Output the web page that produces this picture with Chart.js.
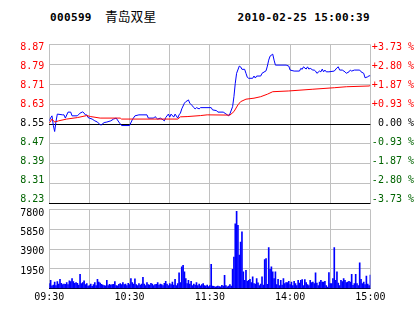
<!DOCTYPE html>
<html><head><meta charset="utf-8">
<script src="https://cdn.jsdelivr.net/npm/chart.js@4/dist/chart.umd.min.js"></script>
<style>
html,body{margin:0;padding:0;background:#fff;width:414px;height:314px;overflow:hidden;}
canvas{position:absolute;left:0;top:0;}
.t{position:absolute;white-space:pre;color:#000;}
.code{font-family:"DejaVu Sans Mono";font-weight:bold;font-size:11px;letter-spacing:0.35px;line-height:11px;top:11.7px;}
.name{font-family:"Noto Sans CJK SC";font-size:12.8px;line-height:12.8px;top:10.4px;left:105px;}
</style></head><body>
<div class="t code" id="code" style="left:50px"></div>
<div class="t name" id="name"></div>
<div class="t code" id="stamp" style="left:237.5px"></div>
<canvas id="p" width="414" height="314"></canvas>
<canvas id="v" width="414" height="314"></canvas>
<script>
const stockCode = '000599';
const stockName = '青岛双星';
const timestamp = '2010-02-25 15:00:39';
const prevClose = 8.55;
const priceTickLabels = ['8.23','8.31','8.39','8.47','8.55','8.63','8.71','8.79','8.87'];
const pctTickLabels = ['-3.73 %','-2.80 %','-1.87 %','-0.93 %','0.00 %','+0.93 %','+1.87 %','+2.80 %','+3.73 %'];
const volGridValues = [0, 1950, 3900, 5850, 7800];
const volTickLabels = ['1950','3900','5850','7800'];
const gridMinutes = [0,30,60,90,120,150,180,210,240];
const timeLabels = ['09:30','','10:30','','11:30','','14:00','','15:00'];

const priceMinutes = [0,1,2,3,4,5,6,10,11,12,14,16,17,21,23,25,26,27,28,29,32,34,36,38,39,41,43,46,48,50,52,54,60,62,64,67,73,74,78,79,81,83,85,86,87,89,90,91,93,94,96,97,98,99,101,102,103,104,105,107,108,109,110,112,113,121,122,125,126,130,132,133,134,135,137,138,139,140,142,143,144,146,147,148,149,152,153,154,155,158,159,162,163,164,165,167,168,169,177,179,180,183,187,188,189,190,192,193,194,195,197,198,199,200,202,203,204,205,206,207,209,213,215,216,217,219,221,222,224,225,226,228,232,233,235,236,238,239,240];
const priceValues = [8.563,8.575,8.583,8.545,8.520,8.560,8.590,8.587,8.587,8.574,8.598,8.598,8.583,8.583,8.594,8.599,8.594,8.587,8.587,8.576,8.570,8.563,8.558,8.547,8.547,8.556,8.558,8.563,8.570,8.574,8.558,8.544,8.544,8.567,8.583,8.587,8.587,8.574,8.574,8.580,8.570,8.574,8.567,8.563,8.576,8.590,8.578,8.590,8.578,8.590,8.574,8.587,8.594,8.611,8.634,8.640,8.643,8.647,8.634,8.623,8.616,8.611,8.616,8.611,8.616,8.616,8.607,8.604,8.598,8.598,8.591,8.587,8.583,8.591,8.620,8.660,8.714,8.754,8.783,8.780,8.770,8.770,8.754,8.738,8.734,8.734,8.743,8.735,8.743,8.743,8.754,8.764,8.783,8.807,8.823,8.831,8.807,8.787,8.787,8.783,8.767,8.763,8.763,8.774,8.770,8.780,8.771,8.780,8.771,8.774,8.767,8.767,8.763,8.754,8.763,8.760,8.771,8.760,8.767,8.760,8.760,8.763,8.776,8.780,8.767,8.767,8.760,8.754,8.760,8.767,8.763,8.767,8.767,8.760,8.754,8.736,8.740,8.744,8.744];

const avgMinutes = [0,2,4,7,13,21,28,31,38,53,54,96,98,103,113,118,135,138,141,143,147,153,158,163,167,179,197,213,222,239,240];
const avgValues = [8.554,8.570,8.558,8.563,8.570,8.576,8.584,8.580,8.574,8.574,8.570,8.570,8.579,8.580,8.584,8.587,8.586,8.600,8.627,8.640,8.650,8.654,8.660,8.670,8.680,8.683,8.690,8.696,8.700,8.703,8.705];

const volumes = [
480,820,260,350,650,300,700,450,920,520,
380,450,420,600,380,760,680,990,700,520,
600,520,350,1400,480,600,750,380,500,250,
300,450,210,380,600,300,920,650,550,420,
350,300,260,820,300,420,350,380,420,700,
300,280,420,500,380,600,400,450,300,520,
380,990,600,450,950,400,300,500,350,450,
1120,450,300,600,400,350,520,450,300,400,
420,600,350,450,380,300,520,720,450,300,
500,400,650,350,920,300,500,1550,600,2140,
2300,1650,980,500,820,450,720,300,450,350,
600,300,450,280,400,500,300,250,350,200,
300,2400,250,220,150,200,250,200,180,320,
250,1300,300,180,250,380,250,1900,3100,6400,
7630,6250,3300,4600,5600,1640,820,1800,720,820,
920,600,1150,500,450,980,560,300,450,1150,
350,2860,2960,420,4050,1900,2140,1650,990,1650,
400,900,300,820,350,990,500,600,600,720,
400,650,300,720,500,300,820,550,820,880,
300,880,600,400,300,820,600,650,500,1540,
550,300,650,820,650,650,720,300,150,1580,
500,490,990,4050,820,1650,550,300,820,690,
990,820,600,650,720,650,1410,330,500,1410,
500,300,2530,920,500,650,400,1220,430,300,
1320];

document.getElementById('code').textContent = stockCode;
document.getElementById('name').textContent = stockName;
document.getElementById('stamp').textContent = timestamp;

const RED = '#ff0000', GREEN = '#006400', BLACK = '#000000', GRID = '#c0c0c0', BLUE = '#0000ff';
Chart.defaults.font.family = 'DejaVu Sans Mono';
Chart.defaults.font.size = 10;
Chart.defaults.color = '#000';

const PLOT_LEFT = 49.3, PLOT_RIGHT_W = 43.6;
const colorFor = v => v > prevClose + 1e-9 ? RED : (v < prevClose - 1e-9 ? GREEN : BLACK);
const priceTickValues = priceTickLabels.map(Number);

const xGridAxis = (showLabels) => ({
  type: 'linear', min: 0, max: 240, offset: false,
  afterBuildTicks: a => { a.ticks = gridMinutes.map(v => ({value: v})); },
  grid: {color: GRID, drawTicks: false, offset: false, lineWidth: 1},
  border: {display: false},
  ticks: {display: showLabels, autoSkip: false, maxRotation: 0, minRotation: 0, padding: 3,
          callback: (v, i) => timeLabels[i]},
  afterFit: s => { s.height = showLabels ? 314 - 288.55 : 0; }
});

new Chart(document.getElementById('p'), {
  type: 'line',
  data: {
    datasets: [
      {label: 'avg', data: avgMinutes.map((m, i) => ({x: m, y: avgValues[i]})),
       borderColor: RED, borderWidth: 1, pointRadius: 0, tension: 0, fill: false, yAxisID: 'y'},
      {label: 'price', data: priceMinutes.map((m, i) => ({x: m, y: priceValues[i]})),
       borderColor: BLUE, borderWidth: 1, pointRadius: 0, tension: 0, fill: false, yAxisID: 'y'}
    ]
  },
  options: {
    responsive: false, animation: false, devicePixelRatio: 1,
    layout: {padding: {top: 44.45, bottom: 314 - 203.65, left: 0, right: 0}},
    plugins: {legend: {display: false}, tooltip: {enabled: false}},
    scales: {
      x: xGridAxis(false),
      y: {
        type: 'linear', position: 'left', min: 8.23, max: 8.87,
        afterBuildTicks: a => { a.ticks = priceTickValues.map(v => ({value: v})); },
        grid: {drawTicks: false, color: c => (Math.abs(c.tick.value - prevClose) < 1e-6 || Math.abs(c.tick.value - 8.23) < 1e-6) ? BLACK : GRID},
        border: {display: false},
        ticks: {display: false},
        afterFit: s => { s.width = 0; }
      },
      yl: {
        type: 'linear', position: 'left', min: 8.2125, max: 8.8828,
        afterBuildTicks: a => { a.ticks = priceTickValues.map(v => ({value: v})); },
        grid: {display: false, drawTicks: false}, border: {display: false},
        ticks: {padding: 5, autoSkip: false, callback: (v, i) => priceTickLabels[i],
                color: c => colorFor(c.tick.value)},
        afterFit: s => { s.width = PLOT_LEFT; }
      },
      yr: {
        type: 'linear', position: 'right', min: 8.2125, max: 8.8828,
        afterBuildTicks: a => { a.ticks = priceTickValues.map(v => ({value: v})); },
        grid: {display: false, drawTicks: false}, border: {display: false},
        ticks: {crossAlign: 'far', autoSkip: false, callback: (v, i) => pctTickLabels[i],
                color: c => colorFor(c.tick.value)},
        afterFit: s => { s.width = PLOT_RIGHT_W; }
      }
    }
  }
});

new Chart(document.getElementById('v'), {
  type: 'bar',
  data: {
    datasets: [{label: 'vol', data: volumes.map((v, i) => ({x: i, y: v})),
      backgroundColor: BLUE, borderWidth: 0, barThickness: 1, yAxisID: 'y'}]
  },
  options: {
    responsive: false, animation: false, devicePixelRatio: 1,
    layout: {padding: {top: 209.55, bottom: 0, left: 0, right: PLOT_RIGHT_W}},
    plugins: {legend: {display: false}, tooltip: {enabled: false}},
    scales: {
      x: xGridAxis(true),
      y: {
        type: 'linear', position: 'left', min: 0, max: 7800,
        afterBuildTicks: a => { a.ticks = volGridValues.map(v => ({value: v})); },
        grid: {drawTicks: false, color: c => c.tick.value === 0 ? BLACK : GRID},
        border: {display: false},
        ticks: {display: false},
        afterFit: s => { s.width = 0; }
      },
      yl: {
        type: 'linear', position: 'left', min: 206, max: 8147,
        afterBuildTicks: a => { a.ticks = volTickLabels.map(v => ({value: Number(v)})); },
        grid: {display: false, drawTicks: false}, border: {display: false},
        ticks: {padding: 5, autoSkip: false, callback: (v, i) => volTickLabels[i], color: BLACK},
        afterFit: s => { s.width = PLOT_LEFT; }
      }
    }
  }
});
</script>
</body></html>
